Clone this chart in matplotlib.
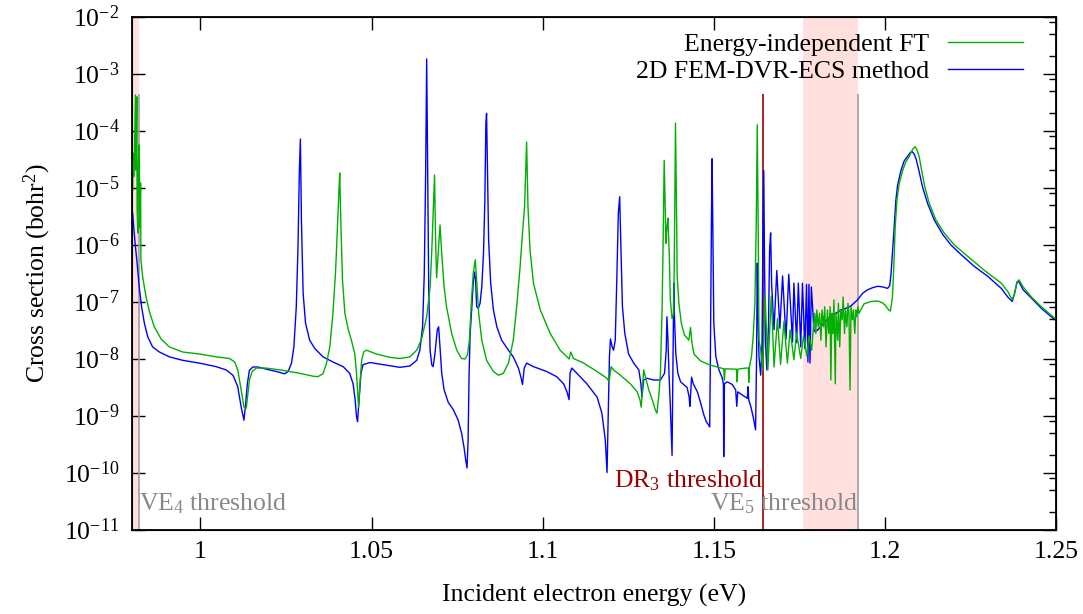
import matplotlib
matplotlib.use('Agg')
import matplotlib.pyplot as plt
from matplotlib.lines import Line2D
from matplotlib.ticker import FixedLocator, NullLocator, NullFormatter, LogFormatterMathtext

plt.rcParams['font.family'] = 'Liberation Serif'
plt.rcParams['mathtext.fontset'] = 'custom'
plt.rcParams['mathtext.rm'] = 'Liberation Serif'
plt.rcParams['mathtext.it'] = 'Liberation Serif:italic'
plt.rcParams['font.size'] = 18.5

# 2D FEM-DVR-ECS method (blue)
energy_fem = [
    0.9802, 0.9805, 0.9810, 0.9815, 0.9821, 0.9828, 0.9836, 0.9846, 0.9860, 0.9880,
    0.9909, 0.9948, 0.9997, 1.0046, 1.0075, 1.0095, 1.0109, 1.0119, 1.0127, 1.0132,
    1.0137, 1.0143, 1.0153, 1.0168, 1.0192, 1.0222, 1.0246, 1.0256, 1.0266, 1.0273,
    1.0280, 1.0285, 1.0289, 1.0292, 1.0295, 1.0300, 1.0307, 1.0319, 1.0334, 1.0358,
    1.0387, 1.0417, 1.0436, 1.0446, 1.0452, 1.0456, 1.0459, 1.0464, 1.0469, 1.0475,
    1.0495, 1.0534, 1.0583, 1.0612, 1.0632, 1.0641, 1.0649, 1.0654, 1.0658, 1.0661,
    1.0664, 1.0667, 1.0671, 1.0676, 1.0680, 1.0685, 1.0692, 1.0696, 1.0700, 1.0705,
    1.0712, 1.0724, 1.0739, 1.0753, 1.0763, 1.0770, 1.0775, 1.0779, 1.0782, 1.0785,
    1.0788, 1.0793, 1.0797, 1.0801, 1.0804, 1.0807, 1.0812, 1.0817, 1.0822, 1.0827,
    1.0831, 1.0834, 1.0836, 1.0838, 1.0842, 1.0848, 1.0856, 1.0866, 1.0880, 1.0900,
    1.0914, 1.0929, 1.0936, 1.0941, 1.0946, 1.0953, 1.0973, 1.1012, 1.1041, 1.1061,
    1.1071, 1.1077, 1.1080, 1.1085, 1.1100, 1.1129, 1.1159, 1.1173, 1.1183, 1.1188,
    1.1192, 1.1195, 1.1198, 1.1203, 1.1207, 1.1212, 1.1217, 1.1221, 1.1225, 1.1228,
    1.1233, 1.1240, 1.1251, 1.1266, 1.1281, 1.1287, 1.1290, 1.1295, 1.1305, 1.1324,
    1.1344, 1.1356, 1.1361, 1.1363, 1.1366, 1.1369, 1.1373, 1.1378, 1.1381, 1.1383,
    1.1385, 1.1389, 1.1395, 1.1403, 1.1412, 1.1422, 1.1428, 1.1430, 1.1433, 1.1435,
    1.1440, 1.1452, 1.1461, 1.1471, 1.1478, 1.1485, 1.1488, 1.1490, 1.1493, 1.1495,
    1.1497, 1.1500, 1.1506, 1.1515, 1.1524, 1.1528, 1.1529, 1.1531, 1.1539, 1.1554,
    1.1564, 1.1567, 1.1570, 1.1583, 1.1598, 1.1600, 1.1602, 1.1608, 1.1615, 1.1622,
    1.1625, 1.1627, 1.1629, 1.1632, 1.1637, 1.1641, 1.1643, 1.1646, 1.1648, 1.1651,
    1.1655, 1.1660, 1.1663, 1.1666, 1.1669, 1.1676, 1.1684, 1.1693, 1.1701, 1.1711,
    1.1719, 1.1730, 1.1734, 1.1742, 1.1747, 1.1754, 1.1759, 1.1766, 1.1771, 1.1775,
    1.1778, 1.1781, 1.1785, 1.1793, 1.1802, 1.1812, 1.1826, 1.1841, 1.1856, 1.1871,
    1.1886, 1.1900, 1.1920, 1.1935, 1.1949, 1.1964, 1.1979, 1.1994, 1.2008, 1.2014,
    1.2018, 1.2022, 1.2027, 1.2032, 1.2037, 1.2047, 1.2056, 1.2067, 1.2074, 1.2079,
    1.2085, 1.2091, 1.2100, 1.2110, 1.2125, 1.2144, 1.2169, 1.2193, 1.2223, 1.2262,
    1.2301, 1.2340, 1.2359, 1.2372, 1.2379, 1.2386, 1.2392, 1.2404, 1.2428, 1.2457,
    1.2496, 1.2505,
]
sigma_fem = [
    3.5e-6, 2.0e-6, 9.1e-7, 4.7e-7, 1.8e-7, 8.1e-8, 4.2e-8, 2.4e-8, 1.6e-8, 1.3e-8,
    1.07e-8, 9.3e-9, 8.3e-9, 7.2e-9, 6.3e-9, 5.1e-9, 3.2e-9, 1.4e-9, 8.3e-10, 1.6e-9,
    3.6e-9, 6.2e-9, 7.1e-9, 7.1e-9, 6.5e-9, 5.9e-9, 5.4e-9, 5.9e-9, 8.3e-9, 1.6e-8,
    8.1e-8, 9.1e-7, 2.0e-5, 7.1e-5, 2.7e-6, 1.4e-7, 4.2e-8, 2.1e-8, 1.5e-8, 1.07e-8,
    8.7e-9, 7.2e-9, 5.5e-9, 3.6e-9, 1.9e-9, 9.5e-10, 7.8e-10, 2.1e-9, 5.5e-9, 7.8e-9,
    8.5e-9, 7.8e-9, 7.0e-9, 7.4e-9, 9.3e-9, 1.4e-8, 3.6e-8, 3.1e-7, 1.8e-5, 1.8e-3,
    1.8e-5, 1.6e-7, 1.4e-8, 7.7e-9, 7.2e-9, 1.2e-8, 3.2e-8, 3.6e-8, 1.6e-8, 5.5e-9,
    2.8e-9, 1.7e-9, 1.26e-9, 8.3e-10, 4.9e-10, 2.8e-10, 1.66e-10, 1.2e-10, 3.7e-10, 5.5e-9,
    2.75e-8, 8.1e-8, 2.1e-7, 3.3e-7, 2.4e-7, 8.1e-8, 7.6e-8, 9.3e-8, 1.8e-7, 6.9e-7,
    6.0e-6, 1.35e-4, 2.0e-4, 3.5e-5, 1.2e-6, 2.1e-7, 7.1e-8, 3.6e-8, 2.1e-8, 1.4e-8,
    1.07e-8, 6.8e-9, 4.8e-9, 3.5e-9, 6.8e-9, 8.3e-9, 7.2e-9, 5.9e-9, 4.8e-9, 3.6e-9,
    2.6e-9, 1.9e-9, 5.5e-9, 6.8e-9, 5.5e-9, 3.6e-9, 2.1e-9, 1.1e-9, 3.7e-10, 1.0e-10,
    1.45e-9, 1.07e-8, 2.2e-8, 1.6e-8, 1.4e-8, 2.1e-8, 3.1e-7, 3.5e-6, 6.9e-6, 1.2e-6,
    8.1e-8, 2.75e-8, 1.2e-8, 8.3e-9, 6.3e-9, 3.6e-9, 2.1e-9, 4.2e-9, 4.5e-9, 4.2e-9,
    4.2e-9, 5.5e-9, 1.4e-8, 5.4e-8, 2.1e-8, 5.5e-9, 1.45e-9, 2.0e-10, 1.07e-8, 2.1e-7,
    5.4e-8, 1.2e-8, 5.5e-9, 3.9e-9, 3.5e-9, 3.1e-9, 2.1e-9, 1.45e-9, 2.8e-9, 4.7e-9,
    3.6e-9, 2.6e-9, 1.7e-9, 1.02e-9, 7.8e-10, 6.8e-10, 6.3e-10, 1.07e-8, 2.3e-6, 3.2e-5,
    2.3e-6, 4.2e-8, 1.07e-8, 6.3e-9, 4.7e-9, 3.6e-9, 1.9e-10, 3.6e-9, 3.9e-9, 3.5e-9,
    2.8e-9, 1.45e-9, 2.6e-9, 2.3e-9, 2.0e-9, 3.2e-9, 1.9e-9, 1.45e-9, 9.5e-10, 5.6e-10,
    1.07e-8, 4.7e-7, 8.1e-8, 1.07e-8, 5.1e-9, 1.9e-8, 6.2e-7, 2.0e-5, 6.2e-7, 1.9e-8,
    6.3e-9, 4.2e-8, 7.9e-7, 1.6e-6, 2.0e-7, 3.2e-8, 3.5e-7, 3.4e-8, 2.8e-7, 2.2e-8,
    3.0e-7, 1.95e-8, 2.1e-7, 1.9e-8, 2.1e-7, 1.6e-8, 2.1e-7, 1.5e-8, 2.0e-7, 8.7e-9,
    2.0e-7, 8.3e-9, 1.8e-7, 3.0e-8, 3.1e-8, 3.6e-8, 4.5e-8, 5.4e-8, 6.2e-8, 7.1e-8,
    7.6e-8, 8.3e-8, 1.07e-7, 1.4e-7, 1.6e-7, 1.75e-7, 1.85e-7, 1.8e-7, 1.7e-7, 1.9e-7,
    3.1e-7, 7.0e-7, 2.0e-6, 6.0e-6, 1.1e-5, 2.0e-5, 2.9e-5, 3.6e-5, 4.1e-5, 4.3e-5,
    3.9e-5, 3.2e-5, 1.9e-5, 1.02e-5, 5.2e-6, 2.7e-6, 1.5e-6, 9.8e-7, 6.6e-7, 4.1e-7,
    2.75e-7, 1.7e-7, 1.2e-7, 1.0e-7, 1.4e-7, 2.2e-7, 2.2e-7, 1.6e-7, 1.15e-7, 7.6e-8,
    4.8e-8, 4.5e-8,
]

# Energy-independent FT (green)
energy_ft = [
    0.9802, 0.9803, 0.9806, 0.9810, 0.9812, 0.9814, 0.9815, 0.9817, 0.9819, 0.9821,
    0.9823, 0.9825, 0.9826, 0.9831, 0.9841, 0.9851, 0.9865, 0.9885, 0.9909, 0.9948,
    0.9997, 1.0046, 1.0085, 1.0100, 1.0109, 1.0119, 1.0127, 1.0134, 1.0139, 1.0143,
    1.0151, 1.0163, 1.0192, 1.0241, 1.0290, 1.0329, 1.0343, 1.0358, 1.0368, 1.0378,
    1.0387, 1.0395, 1.0401, 1.0405, 1.0407, 1.0410, 1.0415, 1.0422, 1.0432, 1.0441,
    1.0451, 1.0456, 1.0460, 1.0462, 1.0466, 1.0471, 1.0477, 1.0485, 1.0514, 1.0553,
    1.0583, 1.0612, 1.0632, 1.0646, 1.0661, 1.0671, 1.0676, 1.0680, 1.0684, 1.0687,
    1.0690, 1.0694, 1.0700, 1.0705, 1.0712, 1.0719, 1.0734, 1.0749, 1.0763, 1.0773,
    1.0780, 1.0786, 1.0792, 1.0797, 1.0803, 1.0807, 1.0813, 1.0822, 1.0836, 1.0856,
    1.0871, 1.0885, 1.0900, 1.0914, 1.0924, 1.0934, 1.0941, 1.0947, 1.0953, 1.0957,
    1.0963, 1.0973, 1.0993, 1.1022, 1.1051, 1.1071, 1.1077, 1.1082, 1.1090, 1.1120,
    1.1159, 1.1188, 1.1194, 1.1200, 1.1207, 1.1227, 1.1256, 1.1276, 1.1284, 1.1288,
    1.1293, 1.1295, 1.1300, 1.1310, 1.1320, 1.1329, 1.1334, 1.1340, 1.1344, 1.1349,
    1.1352, 1.1355, 1.1358, 1.1360, 1.1363, 1.1366, 1.1370, 1.1373, 1.1378, 1.1383,
    1.1386, 1.1388, 1.1391, 1.1393, 1.1398, 1.1405, 1.1414, 1.1427, 1.1432, 1.1436,
    1.1442, 1.1461, 1.1486, 1.1510, 1.1529, 1.1531, 1.1533, 1.1566, 1.1568, 1.1570,
    1.1593, 1.1601, 1.1602, 1.1604, 1.1610, 1.1615, 1.1620, 1.1624, 1.1627, 1.1630,
    1.1632, 1.1637, 1.1643, 1.1650, 1.1658, 1.1668, 1.1676, 1.1686, 1.1695, 1.1705,
    1.1715, 1.1723, 1.1734, 1.1742, 1.1754, 1.1762, 1.1772, 1.1778, 1.1786, 1.1791,
    1.1795, 1.1798, 1.1801, 1.1805, 1.1809, 1.1813, 1.1816, 1.1821, 1.1824, 1.1828,
    1.1832, 1.1836, 1.1840, 1.1842, 1.1845, 1.1848, 1.1851, 1.1855, 1.1857, 1.1862,
    1.1864, 1.1868, 1.1871, 1.1875, 1.1878, 1.1882, 1.1885, 1.1889, 1.1892, 1.1895,
    1.1898, 1.1901, 1.1905, 1.1908, 1.1912, 1.1915, 1.1918, 1.1921, 1.1924, 1.1939,
    1.1959, 1.1979, 1.1993, 1.2003, 1.2011, 1.2016, 1.2022, 1.2026, 1.2030, 1.2035,
    1.2042, 1.2052, 1.2061, 1.2071, 1.2081, 1.2088, 1.2093, 1.2100, 1.2108, 1.2117,
    1.2130, 1.2149, 1.2173, 1.2203, 1.2242, 1.2291, 1.2340, 1.2359, 1.2372, 1.2379,
    1.2386, 1.2392, 1.2404, 1.2428, 1.2457, 1.2496, 1.2505,
]
sigma_ft = [
    9.1e-6, 4.0e-5, 1.55e-5, 4.2e-4, 2.0e-5, 3.9e-4, 4.1e-6, 1.6e-6, 3.0e-5, 5.6e-5,
    2.0e-6, 1.2e-5, 5.4e-7, 2.75e-7, 1.2e-7, 6.6e-8, 3.6e-8, 2.2e-8, 1.6e-8, 1.3e-8,
    1.2e-8, 1.07e-8, 1.0e-8, 8.7e-9, 6.3e-9, 2.8e-9, 1.4e-9, 1.35e-9, 2.5e-9, 4.2e-9,
    5.9e-9, 6.8e-9, 6.8e-9, 6.2e-9, 5.5e-9, 4.9e-9, 4.8e-9, 5.4e-9, 8.1e-9, 1.6e-8,
    6.2e-8, 3.5e-7, 2.7e-6, 1.0e-5, 1.8e-5, 2.7e-6, 2.4e-7, 6.2e-8, 3.2e-8, 2.1e-8,
    1.2e-8, 5.5e-9, 2.1e-9, 1.4e-9, 3.6e-9, 9.3e-9, 1.3e-8, 1.4e-8, 1.2e-8, 1.05e-8,
    1.0e-8, 1.07e-8, 1.4e-8, 2.2e-8, 5.4e-8, 1.8e-7, 8.0e-7, 3.5e-6, 1.66e-5, 1.2e-6,
    2.6e-7, 6.2e-7, 2.2e-6, 6.9e-7, 1.8e-7, 8.1e-8, 2.75e-8, 1.4e-8, 1.0e-8, 9.8e-9,
    1.15e-8, 2.1e-8, 1.07e-7, 3.1e-7, 5.4e-7, 2.4e-7, 6.2e-8, 2.1e-8, 9.3e-9, 5.9e-9,
    5.1e-9, 5.5e-9, 8.3e-9, 2.1e-8, 8.1e-8, 4.1e-7, 1.6e-6, 4.6e-6, 6.3e-5, 4.6e-6,
    8.0e-7, 2.1e-7, 7.1e-8, 2.75e-8, 1.4e-8, 1.07e-8, 9.8e-9, 1.3e-8, 1.0e-8, 8.3e-9,
    5.9e-9, 4.5e-9, 3.9e-9, 7.2e-9, 6.3e-9, 5.1e-9, 3.6e-9, 2.6e-9, 1.9e-9, 1.4e-9,
    4.2e-9, 6.3e-9, 4.8e-9, 2.8e-9, 1.9e-9, 1.26e-9, 1.1e-9, 2.5e-9, 5.5e-9, 8.1e-8,
    1.2e-6, 3.0e-5, 4.6e-6, 1.05e-6, 2.0e-6, 2.9e-6, 6.2e-7, 1.07e-7, 5.0e-8, 6.2e-8,
    4.6e-6, 1.35e-4, 4.6e-6, 2.75e-7, 9.3e-8, 4.2e-8, 2.6e-8, 2.1e-8, 3.5e-8, 1.9e-8,
    1.2e-8, 9.1e-9, 7.8e-9, 7.1e-9, 6.6e-9, 4.2e-9, 6.6e-9, 6.5e-9, 3.9e-9, 6.5e-9,
    6.8e-9, 6.8e-9, 3.8e-9, 7.2e-9, 1.07e-8, 2.4e-8, 9.3e-8, 2.3e-6, 1.26e-4, 1.2e-6,
    2.1e-8, 1.4e-8, 6.3e-9, 1.26e-7, 6.3e-9, 1.26e-7, 7.1e-9, 5.0e-8, 7.9e-9, 4.5e-8,
    8.3e-9, 3.2e-8, 9.5e-9, 2.8e-8, 1.0e-8, 2.5e-8, 1.1e-8, 2.5e-8, 1.4e-8, 3.6e-8,
    6.2e-8, 2.75e-8, 7.1e-8, 3.6e-8, 6.2e-8, 2.1e-8, 7.1e-8, 3.6e-8, 8.1e-8, 1.6e-8,
    7.1e-8, 2.75e-8, 8.1e-8, 4.2e-9, 6.2e-8, 2.75e-8, 1.07e-7, 3.6e-9, 6.2e-8, 2.1e-8,
    9.3e-8, 1.6e-8, 7.1e-8, 4.8e-8, 1.2e-7, 2.75e-8, 7.1e-8, 3.6e-8, 9.3e-8, 6.2e-8,
    2.8e-9, 8.1e-8, 4.8e-8, 7.1e-8, 2.75e-8, 7.1e-8, 5.4e-8, 8.1e-8, 6.2e-8, 9.1e-8,
    1.0e-7, 1.02e-7, 9.5e-8, 8.3e-8, 7.1e-8, 6.8e-8, 1.2e-7, 4.1e-7, 2.0e-6, 6.0e-6,
    1.2e-5, 2.0e-5, 2.8e-5, 3.5e-5, 4.7e-5, 5.2e-5, 4.7e-5, 3.5e-5, 1.9e-5, 1.0e-5,
    5.2e-6, 2.7e-6, 1.6e-6, 9.8e-7, 6.2e-7, 3.5e-7, 2.1e-7, 1.5e-7, 1.07e-7, 1.4e-7,
    2.2e-7, 2.4e-7, 1.8e-7, 1.2e-7, 8.1e-8, 5.1e-8, 4.7e-8,
]

# thresholds (eV)
ve4 = 0.9821
dr3 = 1.1644
ve5 = 1.1922
band_start = 1.1761
line_top = 4.4e-4

x_ticks = [1.0, 1.05, 1.1, 1.15, 1.2, 1.25]
x_labels = ['1', '1.05', '1.1', '1.15', '1.2', '1.25']
decades = [10.0 ** k for k in range(-11, -1)]
right_minor = [m * 10.0 ** k for k in range(-11, -2) for m in (2, 5, 8)]

green = '#00b000'
blue = '#0000ff'
pink = '#ffe0de'
grey = '#a0a0a0'
darkred = '#990000'

fig = plt.figure(figsize=(10.83, 6.14), dpi=100)
ax = fig.add_axes([0.1219, 0.1376, 0.8532, 0.8355])

ax.axvspan(0.97, ve4, color=pink, lw=0, zorder=0)
ax.axvspan(band_start, ve5, color=pink, lw=0, zorder=0)
ax.vlines([ve4, ve5], 1e-11, line_top, colors=grey, lw=1.2, zorder=1)
ax.vlines([dr3], 1e-11, line_top, colors=darkred, lw=1.2, zorder=1)

ax.plot(energy_fem, sigma_fem, color=blue, lw=1.0, zorder=3)
ax.plot(energy_ft, sigma_ft, color=green, lw=1.0, zorder=4)

ax.set_yscale('log')
ax.set_xlim(0.98, 1.25)
ax.set_ylim(1e-11, 1e-2)

ax.text(ve4, 2.2e-11, 'VE$_4$ threshold', color='#888888', ha='left', va='baseline')
ax.text(dr3, 5.4e-11, 'DR$_3$ threshold', color=darkred, ha='right', va='baseline')
ax.text(ve5, 2.2e-11, 'VE$_5$ threshold', color='#888888', ha='right', va='baseline')

ax.xaxis.set_major_locator(FixedLocator(x_ticks))
ax.set_xticklabels(x_labels)
ax.yaxis.set_major_locator(FixedLocator(decades))
ax.yaxis.set_major_formatter(LogFormatterMathtext())
ax.yaxis.set_minor_locator(NullLocator())
ax.tick_params(axis='x', which='major', direction='in', length=9.5, width=1, top=True, pad=8)
ax.tick_params(axis='y', which='major', direction='in', length=9.5, width=1, right=False, pad=9)
ax.set_axisbelow(True)
for sp in ax.spines.values():
    sp.set_linewidth(1.3)

ax2 = ax.twinx()
ax2.set_yscale('log')
ax2.set_ylim(1e-11, 1e-2)
ax2.yaxis.set_major_locator(FixedLocator(decades))
ax2.yaxis.set_minor_locator(FixedLocator(right_minor))
ax2.yaxis.set_major_formatter(NullFormatter())
ax2.yaxis.set_minor_formatter(NullFormatter())
ax2.tick_params(which='major', direction='in', length=9.5, width=1)
ax2.tick_params(which='minor', direction='in', length=4.8, width=1)

ax.set_xlabel('Incident electron energy (eV)', labelpad=15)
ax.set_ylabel('Cross section (bohr$^2$)', labelpad=8)

handles = [Line2D([], [], color=green, lw=1.0), Line2D([], [], color=blue, lw=1.0)]
labels = ['Energy-independent FT', '2D FEM-DVR-ECS method']
ax.legend(handles, labels, loc='upper right', bbox_to_anchor=(0.964, 0.968),
          frameon=False, markerfirst=False, handlelength=2.9, handletextpad=0.75,
          labelspacing=0.17, borderpad=0, borderaxespad=0)

fig.savefig('out.png', dpi=100)
